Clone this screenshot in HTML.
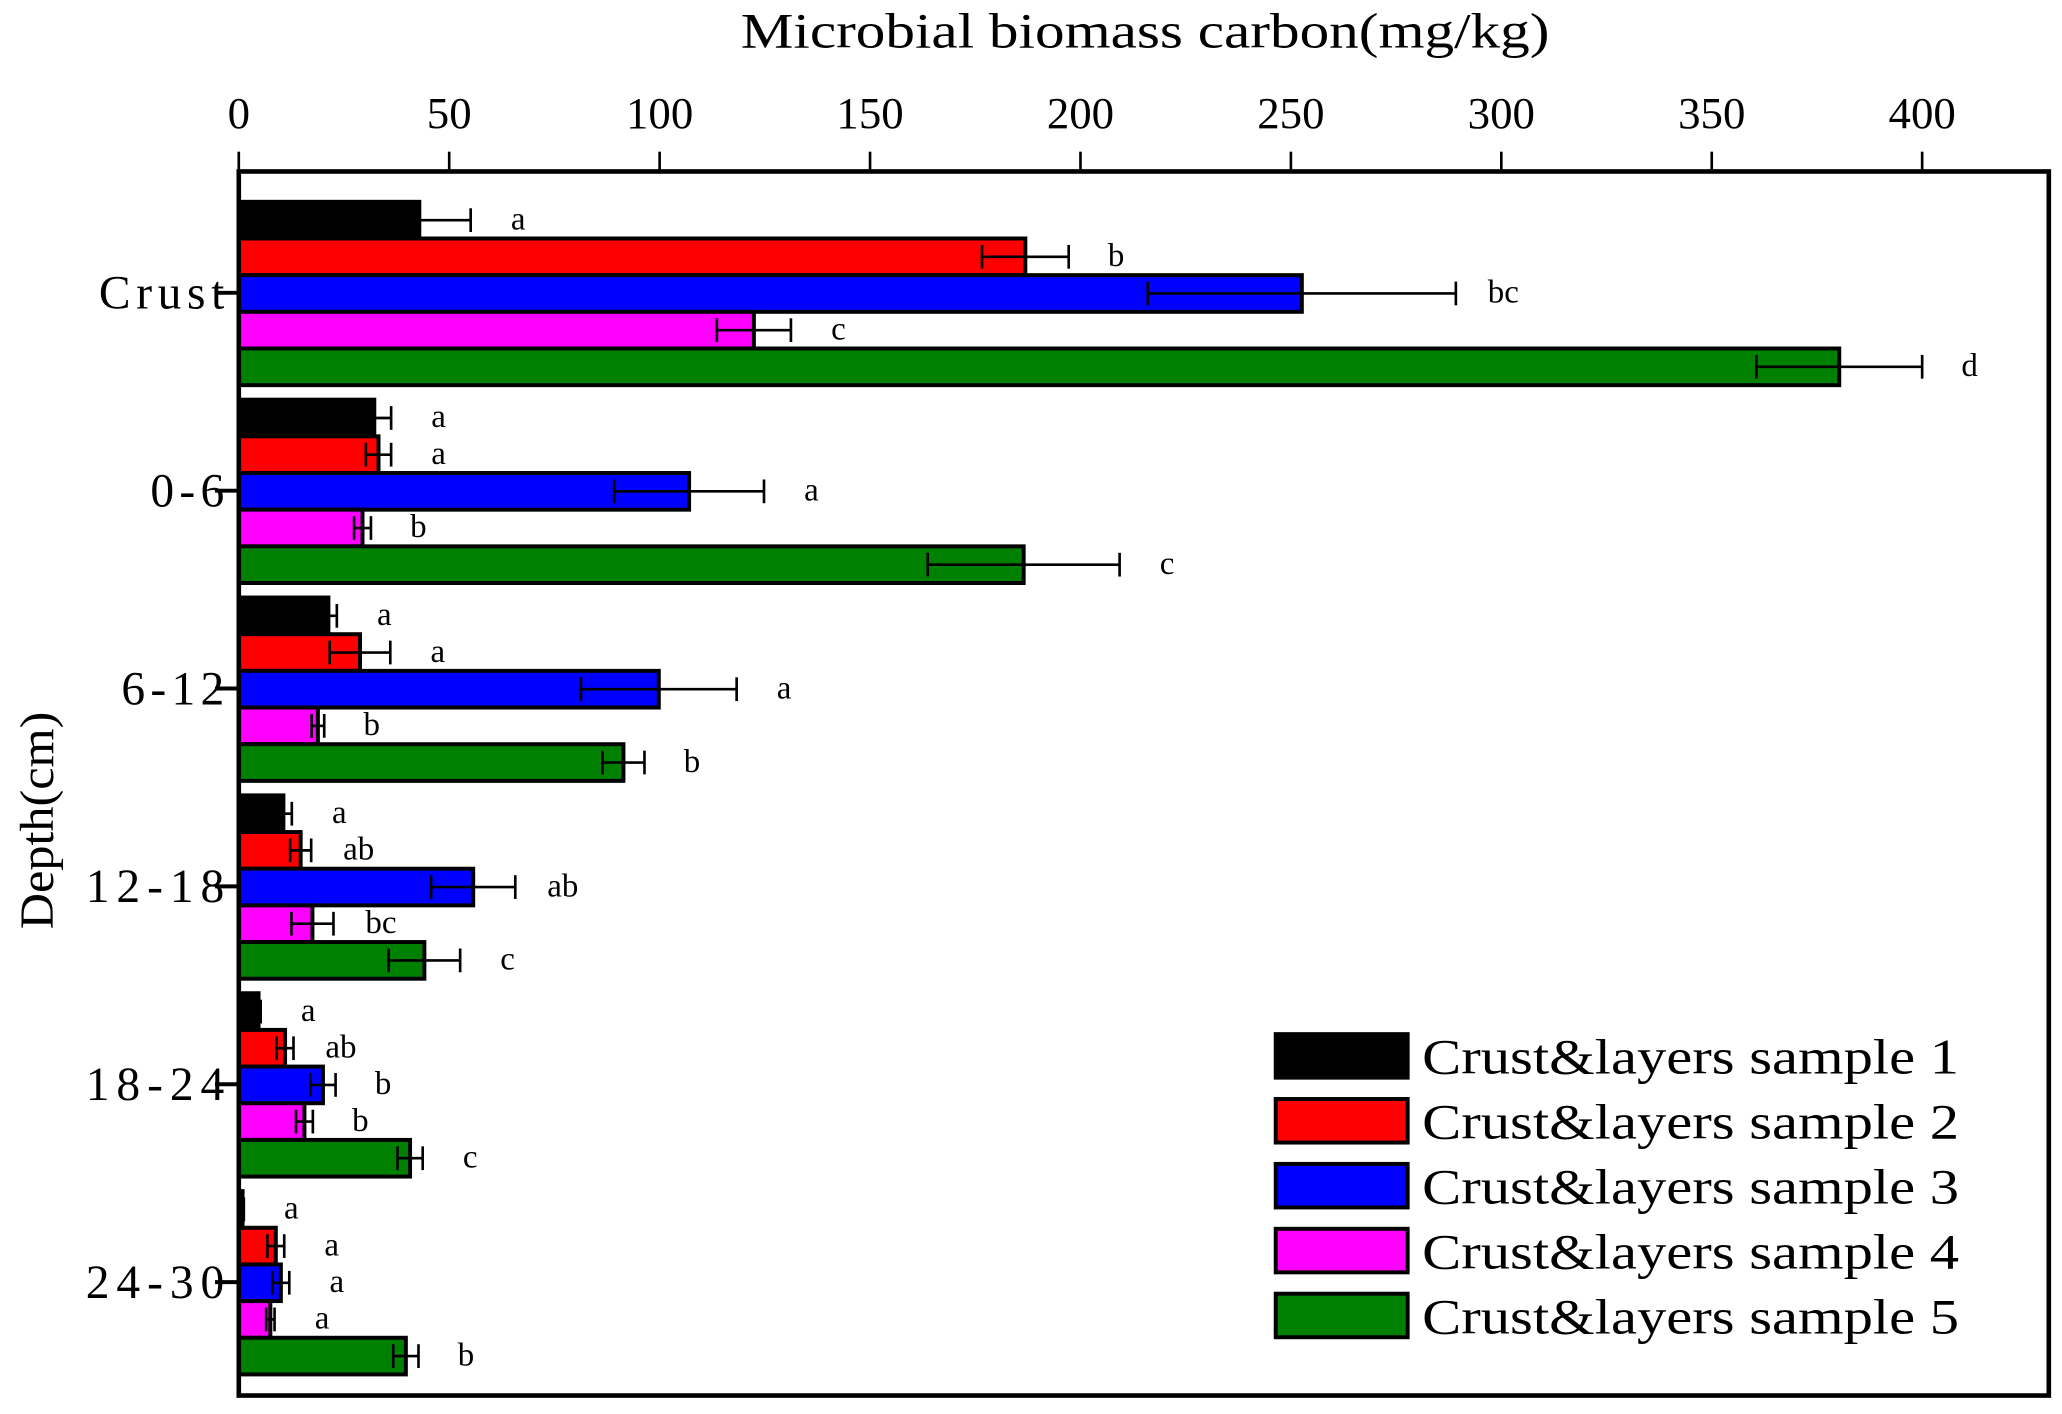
<!DOCTYPE html>
<html><head><meta charset="utf-8"><style>html,body{margin:0;padding:0;background:#fff}svg{display:block}</style></head>
<body>
<svg id="chart" width="2062" height="1414" viewBox="0 0 1563 1072" preserveAspectRatio="none" xmlns="http://www.w3.org/2000/svg" font-family="'Liberation Serif', serif"></svg>
<script>
const categories = ["Crust","0-6","6-12","12-18","18-24","24-30"];
const seriesNames = ["Crust&layers sample 1","Crust&layers sample 2","Crust&layers sample 3","Crust&layers sample 4","Crust&layers sample 5"];
const colors = ["#000000","#ff0000","#0000ff","#ff00ff","#008000"];
const s1 = [42.9, 32.2, 21.3, 10.6, 4.7, 0.9];
const s2 = [186.9, 33.2, 28.8, 14.7, 11.0, 8.8];
const s3 = [252.6, 107.0, 99.8, 55.7, 20.0, 10.0];
const s4 = [122.4, 29.4, 18.8, 17.5, 15.6, 7.5];
const s5 = [380.3, 186.5, 91.4, 44.1, 40.7, 39.7];
const e1 = [12.2, 4, 2, 2, 0.5, 0.3];
const e2 = [10.3, 3, 7.2, 2.5, 2, 2];
const e3 = [36.6, 17.8, 18.5, 10, 3, 2];
const e4 = [8.8, 2, 1.5, 5, 2, 1];
const e5 = [19.7, 22.8, 5, 8.5, 3, 3];
const l1 = ["a","a","a","a","a","a"];
const l2 = ["b","a","a","ab","ab","a"];
const l3 = ["bc","a","a","ab","b","a"];
const l4 = ["c","b","b","bc","b","a"];
const l5 = ["d","c","b","c","c","b"];
const xTicks = [0,50,100,150,200,250,300,350,400];

const series=[s1,s2,s3,s4,s5], errs=[e1,e2,e3,e4,e5], lets=[l1,l2,l3,l4,l5];
const NS="http://www.w3.org/2000/svg";
const svg=document.getElementById('chart');
const L=181,R=1553,T=130,B=1058;
const x=v=>L+v*(1457-L)/400;
const yc=i=>222+i*150;
const barH=27.8;
const labelW={"Crust":95,"0-6":56,"6-12":78,"12-18":105,"18-24":105,"24-30":105};
function mk(tag,attrs,parent){const e=document.createElementNS(NS,tag);for(const k in attrs)e.setAttribute(k,attrs[k]);(parent||svg).appendChild(e);return e;}

categories.forEach((c,i)=>{
  series.forEach((s,k)=>{
    const top=yc(i)-69+k*barH;
    const r=mk('rect',{x:L,y:top,width:Math.max(0,x(s[i])-L),height:barH,fill:colors[k],stroke:'#000','stroke-width':3});
    
    
    const cy=top+barH/2, lo=x(s[i]-errs[k][i]), hi=x(s[i]+errs[k][i]);
    const g=mk('g',{stroke:'#000','stroke-width':2});
    
    
    mk('line',{x1:lo,y1:cy,x2:hi,y2:cy},g);
    mk('line',{x1:lo,y1:cy-9,x2:lo,y2:cy+9},g);
    mk('line',{x1:hi,y1:cy-9,x2:hi,y2:cy+9},g);
    const t=mk('text',{x:hi+36,y:cy+7,'font-size':25,'text-anchor':'middle'});
    t.textContent=lets[k][i];
    
    
  });
  mk('line',{x1:163,y1:yc(i),x2:L,y2:yc(i),stroke:'#000','stroke-width':3});
  const t=mk('text',{x:170-labelW[c],y:yc(i)+12,'font-size':36,textLength:labelW[c],lengthAdjust:'spacing'});
  t.textContent=c;
  
  
});

const frame=mk('rect',{x:L,y:T,width:R-L,height:B-T,fill:'none',stroke:'#000','stroke-width':3.5});



xTicks.forEach(v=>{
  mk('line',{x1:x(v),y1:T,x2:x(v),y2:115,stroke:'#000','stroke-width':2});
  const t=mk('text',{x:x(v),y:97,'font-size':34,'text-anchor':'middle'});
  t.textContent=v;
  
  
});

const xt=mk('text',{x:868,y:36,'font-size':38,'text-anchor':'middle',textLength:613,lengthAdjust:'spacingAndGlyphs'});
xt.textContent='Microbial biomass carbon(mg/kg)';



const yt=mk('text',{x:0,y:0,'font-size':36,'text-anchor':'middle',transform:'translate(40,622) rotate(-90)',textLength:165,lengthAdjust:'spacingAndGlyphs'});
yt.textContent='Depth(cm)';



seriesNames.forEach((n,k)=>{
  const top=784+k*49.2;
  const g=mk('g',{});
  
  
  mk('rect',{x:967,y:top,width:100,height:33,fill:colors[k],stroke:'#000','stroke-width':3},g);
  const t=mk('text',{x:1078,y:top+30,'font-size':38,textLength:407,lengthAdjust:'spacingAndGlyphs'},g);
  t.textContent=n;
});
</script>
</body></html>
